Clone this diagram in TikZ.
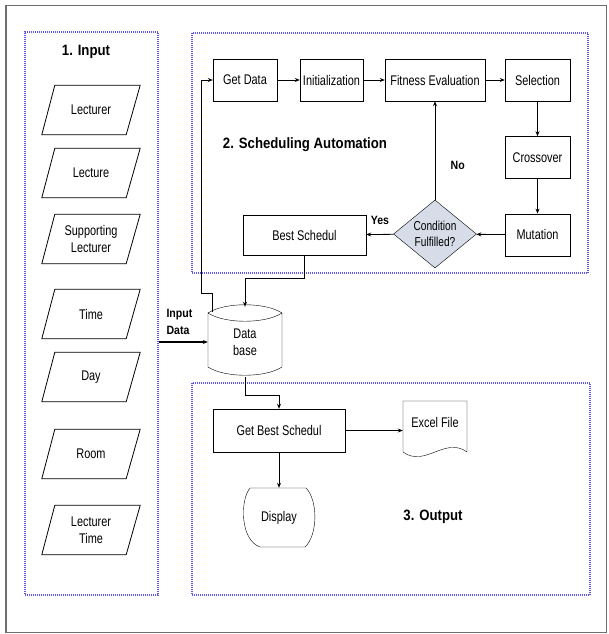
\documentclass[tikz,border=0pt]{standalone}
\usepackage{fontspec}
\setmainfont{Liberation Sans}[FakeStretch=0.78]
\newfontfamily\headfont{Liberation Sans}[FakeStretch=0.88]
\usetikzlibrary{shapes.geometric, arrows.meta, positioning, calc}
\definecolor{frameblue}{RGB}{95, 85, 230}
\definecolor{decision}{RGB}{214, 220, 232}
\definecolor{border}{RGB}{110, 110, 110}

\begin{document}
\begin{tikzpicture}[x=1pt, y=-1pt,
        node distance=35pt and 22pt,
        process/.style={rectangle, draw, minimum width=64pt, minimum height=42pt, inner sep=1pt, font=\fontsize{14}{17}\selectfont, align=center},
        dataio/.style={rectangle, draw=none, minimum width=98pt, minimum height=49pt, inner sep=1pt, font=\fontsize{14}{17}\selectfont, align=center},
        decide/.style={diamond, draw, fill=decision, aspect=1.2, minimum width=83pt, minimum height=68pt, inner sep=-3pt, font=\fontsize{13}{16}\selectfont, align=center},
        plain/.style={draw=none, inner sep=0pt, font=\fontsize{14}{17}\selectfont, align=center},
        group/.style={rectangle, draw=frameblue, dash pattern=on 1pt off 1pt, line width=1.2pt},
        title/.style={font=\headfont\bfseries\fontsize{15}{18}\selectfont},
        tag/.style={font=\headfont\bfseries\fontsize{12}{17}\selectfont, align=left},
        arrow/.style={-{Stealth[length=5pt, width=4pt]}, line width=0.8pt}
    ]
        \useasboundingbox (0,0) rectangle (609,634);
        \draw[border, line width=0.8pt] (5,5) rectangle (606,632);
        \draw[border, line width=2.2pt] (6,5) -- (6,632);

        % Groups
        \node[group, minimum width=133pt, minimum height=563pt] (inp) at (91.5,313.5) {};
        \node[group, minimum width=396pt, minimum height=240pt] (sched) at (390,153) {};
        \node[group, minimum width=398pt, minimum height=212pt] (outp) at (391,489) {};
        \node[title] (t1) at (86,52) {1. Input};
        \node[title] (t2) at (305,145) {2. Scheduling Automation};
        \node[title] (t3) at (433,517) {3. Output};

        % Input data
        \node[dataio] (lecturer) at (91,110) {Lecturer};
        \node[dataio] (lecture) at (91,173) {Lecture};
        \node[dataio] (support) at (91,239) {Supporting\\Lecturer};
        \node[dataio] (time) at (91,314) {Time};
        \node[dataio] (day) at (91,377) {Day};
        \node[dataio] (room) at (91,454) {Room};
        \node[dataio] (lecttime) at (91,530) {Lecturer\\Time};
        \foreach \n in {lecturer, lecture, support, time, day, room, lecttime}
            \draw[line width=0.8pt] (\n.south west) -- ([xshift=-14pt]\n.south east) -- (\n.north east) -- ([xshift=13pt]\n.north west) -- cycle;

        % Scheduling
        \node[process] (getdata) at (245,80) {Get Data};
        \node[process, minimum width=63pt] (init) at (331.5,80) {Initialization};
        \node[process, minimum width=100pt] (fitness) at (435,80) {Fitness Evaluation};
        \node[process, minimum width=65pt] (select) at (537.5,80) {Selection};
        \node[process, minimum width=65pt, below=of select] (cross) {Crossover};
        \node[process, minimum width=65pt, below=of cross] (mutate) {Mutation};
        \node[decide] (cond) at (435,234) {Condition\\Fulfilled?};
        \node[process, minimum width=123pt, minimum height=40pt] (best) at (304.5,235) {Best Schedul};

        % Database
        \node[plain, minimum width=74pt, minimum height=70pt] (db) at (245,342) {Data\\base};
        \draw (208,313) .. controls (225,302) and (265,302) .. (282,313)
            .. controls (265,324) and (225,324) .. (208,313)
            -- (208,367) .. controls (225,378) and (265,378) .. (282,367) -- (282,313);
        \node[tag, anchor=west] (indata) at (163,322) {Input\\Data};

        % Output
        \node[process, minimum width=132pt, minimum height=43pt] (getbest) at (279,430.5) {Get Best Schedul};
        \node[plain, minimum width=64pt, minimum height=59pt, text height=10pt, text depth=17pt] (excel) at (435,430.5) {Excel File};
        \draw (403,401) -- (467,401) -- (467,452)
            .. controls (445,436) and (425,468) .. (403,452) -- cycle;
        \node[plain, minimum width=72pt, minimum height=59pt] (disp) at (279,517.5) {Display};
        \draw (250,488) -- (306,488) .. controls (318,500) and (318,535) .. (305,547)
            -- (260,547) .. controls (240,540) and (240,500) .. (250,488) -- cycle;

        % Arrows
        \draw[arrow] (getdata) -- (init);
        \draw[arrow] (init) -- (fitness);
        \draw[arrow] (fitness) -- (select);
        \draw[arrow] (select) -- (cross);
        \draw[arrow] (cross) -- (mutate);
        \draw[arrow] (mutate) -- (cond);
        \draw[arrow] (cond) -- node[tag, midway, above=6pt] {Yes} (best);
        \draw[arrow] (cond) -- node[tag, pos=0.35, right=12pt] {No} (fitness);
        \draw[arrow] (best.south) -- ++(0,23) -| (db.north);
        \draw[arrow] ([xshift=5pt,yshift=-5pt]db.north west) -- ++(0,-18) -| ([xshift=-11pt]getdata.west) -- (getdata.west);
        \draw[arrow, line width=1.4pt] (inp.east |- db.west) -- (db.west);
        \draw[arrow] (db.south) -- ++(0,18) -| (getbest.north);
        \draw[arrow] (getbest) -- (excel);
        \draw[arrow] (getbest) -- (disp);
\end{tikzpicture}
\end{document}
